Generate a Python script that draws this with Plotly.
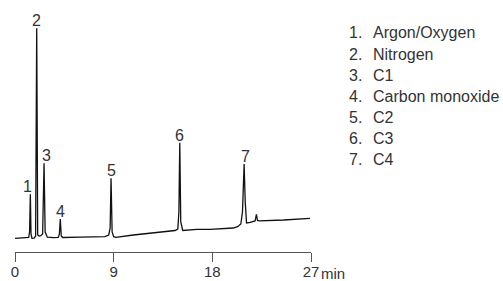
import plotly.graph_objects as go

# Chromatogram trace (time in min, detector response, arbitrary units)
time_min = [0.0, 0.9, 1.25, 1.33, 1.40, 1.46, 1.55, 1.75, 1.88, 1.98, 2.07, 2.20, 2.35,
            2.52, 2.65, 2.75, 2.95, 3.5, 3.95, 4.05, 4.13, 4.22, 4.35, 6.0, 8.2,
            8.55, 8.68, 8.76, 8.86, 9.0, 9.2, 10.8, 12.0, 13.2, 13.6, 14.6, 14.85,
            14.95, 15.03, 15.12, 15.3, 15.7, 16.6, 17.8, 19.9, 20.3, 20.6, 20.75,
            20.90, 21.0, 21.12, 21.45, 21.9, 22.02, 22.12, 22.3, 24.5, 26.9]
signal = [13.7, 14.0, 14.6, 20, 57.7, 18, 13.6, 13.8, 16, 223.7, 17, 16.0, 16.3,
          18, 88.7, 20, 14.8, 14.4, 14.6, 18, 33, 16, 14.5, 14.8, 15.3,
          17, 24, 73.7, 20, 15.3, 14.7, 17, 18.5, 19.7, 20.8, 21.5, 23,
          40, 109.3, 30, 21.5, 22, 22.7, 22.7, 24, 25.3, 28, 40,
          88, 50, 29, 29.7, 31, 37.7, 31.5, 31.2, 32, 33.7]

# Peak labels
peak_ids = ["1", "2", "3", "4", "5", "6", "7"]
peak_times = [1.40, 1.98, 2.65, 4.13, 8.76, 15.03, 20.90]
peak_heights = [57.7, 223.7, 88.7, 33, 73.7, 109.3, 88]

# Legend (compound names)
compounds = ["Argon/Oxygen", "Nitrogen", "C1", "Carbon monoxide", "C2", "C3", "C4"]

# Axis ticks
tick_vals = [0, 9, 18, 27]
tick_text = ["0", "9", "18", "27"]
x_unit = "min"

FONT = "Liberation Sans, Arial, sans-serif"
TXT = "#333333"

fig = go.Figure()
fig.add_trace(go.Scatter(x=time_min, y=signal, mode="lines",
                         line=dict(color="#111111", width=1.3),
                         hoverinfo="skip", showlegend=False))

label_xshift = [-2.5, 0, 2, 0, 0, 0, 1]
for pid, t, h, dx in zip(peak_ids, peak_times, peak_heights, label_xshift):
    fig.add_annotation(x=t, y=h, xref="x", yref="y", text=pid, showarrow=False,
                       xanchor="center", yanchor="bottom", yshift=-3, xshift=dx,
                       font=dict(family=FONT, size=16, color=TXT))

plot_h = 252
plot_w = 296
for i, name in enumerate(compounds):
    ypix = 33 + 21 * i
    yp = (plot_h - ypix) / plot_h
    fig.add_annotation(x=(347 - 15) / plot_w, y=yp, xref="paper", yref="paper",
                       text=f"{peak_ids[i]}.", showarrow=False, xanchor="left",
                       yanchor="middle", font=dict(family=FONT, size=16, color=TXT))
    fig.add_annotation(x=(371 - 15) / plot_w, y=yp, xref="paper", yref="paper",
                       text=name, showarrow=False, xanchor="left",
                       yanchor="middle", font=dict(family=FONT, size=16, color=TXT))

fig.add_annotation(x=27, y=0, xref="x", yref="paper", text=x_unit, showarrow=False,
                   xanchor="left", yanchor="top", xshift=8, yshift=-11,
                   font=dict(family=FONT, size=15, color=TXT))

fig.update_layout(
    width=503, height=281,
    margin=dict(l=15, r=192, t=0, b=29, autoexpand=False),
    paper_bgcolor="white", plot_bgcolor="white",
    showlegend=False,
    xaxis=dict(range=[0, 27], showgrid=False, zeroline=False, showline=True,
               automargin=False, ticklabelstandoff=-3,
               linecolor="#555555", linewidth=1.3, ticks="outside", ticklen=9,
               tickwidth=1.3, tickcolor="#555555", tickvals=tick_vals,
               ticktext=tick_text, tickfont=dict(family=FONT, size=15, color=TXT)),
    yaxis=dict(range=[0, 252], visible=False, fixedrange=True, automargin=False),
)

fig.write_html("out.html", config={"displayModeBar": False},
               post_script="document.body.style.margin='0';document.body.style.overflow='hidden';")
